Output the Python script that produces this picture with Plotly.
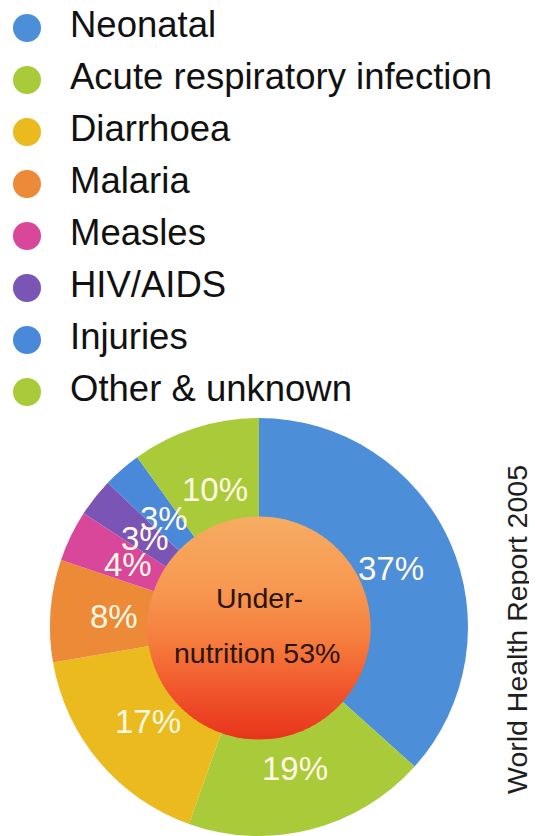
import numpy as np
import plotly.graph_objects as go

# ---------------- data ----------------
causes = ["Neonatal", "Acute respiratory infection", "Diarrhoea", "Malaria",
          "Measles", "HIV/AIDS", "Injuries", "Other & unknown"]
shares = [37, 19, 17, 8, 4, 3, 3, 10]
colors = ["#4C8FD8", "#A9CB3A", "#EBBA1E", "#EC8A38",
          "#D9479A", "#7B55B5", "#4A89DA", "#A9CB3A"]
center_lines = ["Under-", "nutrition 53%"]
source_text = "World Health Report 2005"

# ---------------- layout constants ----------------
W, H = 537, 836          # window
OFF = 8                  # default body margin of the page
FW, FH = W - OFF, H - OFF
FONT = "Liberation Sans, Arial, Helvetica, sans-serif"
cx, cy, R = 259, 628, 210          # pie centre / radius (window px)
HOLE = 0.524
Rh = R * HOLE
LABEL_R = 145


def px2paper(x, y):
    return (x - OFF) / FW, 1 - (y - OFF) / FH


fig = go.Figure()

# ---------------- legend (markers + text on a hidden axis) ----------------
fig.add_trace(go.Scatter(
    x=[0] * len(causes), y=causes, mode="markers",
    marker=dict(size=28, color=colors, line=dict(width=0)),
    hoverinfo="skip", showlegend=False, cliponaxis=False))
fig.add_trace(go.Scatter(
    x=[1] * len(causes), y=causes, mode="text", text=causes,
    textposition="middle right",
    textfont=dict(family=FONT, size=36.5, color="#111111"),
    hoverinfo="skip", showlegend=False, cliponaxis=False))

unit = 43.0
xmin = -(27 - OFF) / unit
fig.update_xaxes(range=[xmin, xmin + FW / unit], visible=False, domain=[0, 1])
row_h = 52.0
dom_px = 418 - OFF
r_top = -(28 - OFF) / row_h
fig.update_yaxes(type="category", categoryorder="array", categoryarray=causes,
                 range=[r_top + dom_px / row_h, r_top], visible=False,
                 domain=[1 - dom_px / FH, 1])

# ---------------- donut ----------------
dx0, _ = px2paper(cx - R, 0)
dx1, _ = px2paper(cx + R, 0)
_, dy0 = px2paper(0, cy + R)
_, dy1 = px2paper(0, cy - R)
fig.add_trace(go.Pie(
    labels=causes, values=shares, sort=False, direction="clockwise",
    rotation=0, hole=HOLE, textinfo="none",
    marker=dict(colors=colors, line=dict(width=0)),
    domain=dict(x=[max(dx0, 0), min(dx1, 1)], y=[max(dy0, 0), min(dy1, 1)]),
    showlegend=False, hoverinfo="label+value"))

# percentage labels placed along each slice's mid-angle
vals = np.array(shares, dtype=float)
frac = vals / vals.sum()
mid = (np.cumsum(frac) - frac / 2) * 2 * np.pi
annotations = []
for v, a in zip(shares, mid):
    px = cx + LABEL_R * np.sin(a)
    py = cy - LABEL_R * np.cos(a)
    xp, yp = px2paper(px, py)
    annotations.append(dict(x=xp, y=yp, xref="paper", yref="paper",
                            xanchor="center", yanchor="middle",
                            text=f"{v}%", showarrow=False,
                            font=dict(family=FONT, size=33, color="#FFF8E2")))

# ---------------- gradient centre disc (vertical gradient bands) ----------------
stops = [(0.0, (246, 172, 98)), (0.3, (247, 154, 82)), (0.55, (246, 126, 62)),
         (0.8, (240, 82, 42)), (1.0, (232, 52, 28))]


def interp(t):
    for (t0, c0), (t1, c1) in zip(stops[:-1], stops[1:]):
        if t <= t1:
            u = (t - t0) / (t1 - t0)
            return "rgb(%d,%d,%d)" % tuple(round(c0[i] + u * (c1[i] - c0[i])) for i in range(3))
    return "rgb(%d,%d,%d)" % stops[-1][1]


Rc = Rh + 1.5
shapes = []
N = 70
edges = np.linspace(cy - Rc, cy + Rc, N + 1)
for k in range(N):
    ya, yb = edges[k], min(edges[k + 1] + 1.2, cy + Rc)
    ys = np.linspace(ya, yb, 8)
    half = np.sqrt(np.clip(Rc ** 2 - (ys - cy) ** 2, 0, None))
    pts = [(cx + h, y) for h, y in zip(half, ys)] + \
          [(cx - h, y) for h, y in zip(half[::-1], ys[::-1])]
    pp = [px2paper(x, y) for x, y in pts]
    path = "M " + " L ".join("%.5f,%.5f" % p for p in pp) + " Z"
    t = (k + 0.5) / N
    shapes.append(dict(type="path", xref="paper", yref="paper", path=path,
                       fillcolor=interp(t), line=dict(width=0), layer="above"))

# centre text
for txt, (tx, ty) in zip(center_lines, [(259, 598), (257, 653)]):
    xp, yp = px2paper(tx, ty)
    annotations.append(dict(x=xp, y=yp, xref="paper", yref="paper", text=txt,
                            xanchor="center", yanchor="middle",
                            showarrow=False,
                            font=dict(family=FONT, size=28.5, color="#2A150A")))

# source text (rotated)
xp, yp = px2paper(517, 630)
annotations.append(dict(x=xp, y=yp, xref="paper", yref="paper", text=source_text,
                        xanchor="center", yanchor="middle",
                        textangle=-90, showarrow=False,
                        font=dict(family=FONT, size=28.5, color="#1E1E1E")))

fig.update_layout(
    width=FW, height=FH, margin=dict(l=0, r=0, t=0, b=0),
    paper_bgcolor="white", plot_bgcolor="white",
    shapes=shapes, annotations=annotations, showlegend=False,
)

fig.write_html("out.html")
